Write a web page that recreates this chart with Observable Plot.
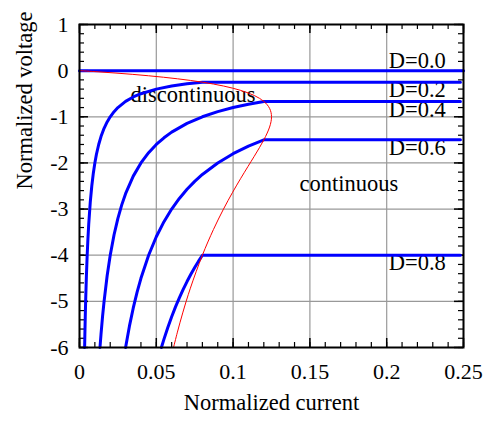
<!DOCTYPE html>
<html>
<head>
<meta charset="utf-8">
<script src="https://cdn.jsdelivr.net/npm/d3@7"></script>
<script src="https://cdn.jsdelivr.net/npm/@observablehq/plot@0.6"></script>
<style>
  html, body { margin: 0; padding: 0; background: white; }
  svg text { font-family: 'Liberation Serif', 'Times New Roman', serif; }
</style>
</head>
<body>
<div id="chart"></div>
<script>
// ---- data ----
const xMajor = [0, 0.05, 0.1, 0.15, 0.2, 0.25];
const xMinor = [0,0.01,0.02,0.03,0.04,0.05,0.06,0.07,0.08,0.09,0.1,0.11,0.12,0.13,0.14,0.15,0.16,0.17,0.18,0.19,0.2,0.21,0.22,0.23,0.24,0.25];
const yMajor = [1, 0, -1, -2, -3, -4, -5, -6];
const yMinor = [1,0.8,0.6,0.4,0.2,0,-0.2,-0.4,-0.6,-0.8,-1,-1.2,-1.4,-1.6,-1.8,-2,-2.2,-2.4,-2.6,-2.8,-3,-3.2,-3.4,-3.6,-3.8,-4,-4.2,-4.4,-4.6,-4.8,-5,-5.2,-5.4,-5.6,-5.8,-6];

const curveD00 = [[0,0],[0.25,0]];
const curveD02 = [[0.00333,-6],[0.0035,-5.714],[0.00375,-5.333],[0.004,-5],[0.0045,-4.444],[0.005,-4],[0.0055,-3.636],[0.006,-3.333],[0.007,-2.857],[0.008,-2.5],[0.009,-2.222],[0.01,-2],[0.011,-1.818],[0.0125,-1.6],[0.014,-1.429],[0.016,-1.25],[0.018,-1.111],[0.02,-1],[0.0225,-0.889],[0.025,-0.8],[0.03,-0.667],[0.035,-0.571],[0.04,-0.5],[0.05,-0.4],[0.06,-0.333],[0.07,-0.286],[0.08,-0.25],[0.248,-0.25]];
const curveD04 = [[0.01333,-6],[0.014,-5.714],[0.015,-5.333],[0.016,-5],[0.018,-4.444],[0.02,-4],[0.0225,-3.556],[0.025,-3.2],[0.0275,-2.909],[0.03,-2.667],[0.035,-2.286],[0.04,-2],[0.045,-1.778],[0.05,-1.6],[0.055,-1.455],[0.06,-1.333],[0.07,-1.143],[0.08,-1],[0.09,-0.889],[0.1,-0.8],[0.11,-0.727],[0.12,-0.667],[0.248,-0.667]];
const curveD06 = [[0.03,-6],[0.0325,-5.538],[0.035,-5.143],[0.0375,-4.8],[0.04,-4.5],[0.045,-4],[0.05,-3.6],[0.055,-3.273],[0.06,-3],[0.065,-2.769],[0.07,-2.571],[0.075,-2.4],[0.08,-2.25],[0.09,-2],[0.1,-1.8],[0.11,-1.636],[0.12,-1.5],[0.248,-1.5]];
const curveD08 = [[0.05333,-6],[0.055,-5.818],[0.0575,-5.565],[0.06,-5.333],[0.0625,-5.12],[0.065,-4.923],[0.0675,-4.741],[0.07,-4.571],[0.0725,-4.414],[0.075,-4.267],[0.0775,-4.129],[0.08,-4],[0.248,-4]];
const boundary = [[0,0],[0.0121875,-0.02564],[0.02375,-0.05263],[0.0346875,-0.08108],[0.045,-0.11111],[0.0546875,-0.142857],[0.06375,-0.17647],[0.0721875,-0.21212],[0.08,-0.25],[0.0871875,-0.29032],[0.09375,-0.33333],[0.0996875,-0.37931],[0.105,-0.42857],[0.1096875,-0.48148],[0.11375,-0.53846],[0.1171875,-0.6],[0.12,-0.66667],[0.1221875,-0.73913],[0.12375,-0.81818],[0.1246875,-0.90476],[0.125,-1],[0.1246875,-1.10526],[0.12375,-1.22222],[0.1221875,-1.35294],[0.12,-1.5],[0.1171875,-1.66667],[0.11375,-1.85714],[0.1096875,-2.07692],[0.105,-2.33333],[0.0996875,-2.63636],[0.09375,-3],[0.0871875,-3.44444],[0.08,-4],[0.0721875,-4.71429],[0.0672,-5.25],[0.06375,-5.66667],[0.061224,-6]];

const dutyNames = ["D=0.0", "D=0.2", "D=0.4", "D=0.6", "D=0.8"];
const dutyLevels = [0, -0.25, -0.667, -1.5, -4];
const labelX = 0.2;
const regionNames = ["discontinuous", "continuous"];
const regionX = [0.0332, 0.1432];
const regionY = [-0.53, -2.457];

// ---- build tables ----
const curves = [curveD00, curveD02, curveD04, curveD06, curveD08];
const lineRows = curves.flatMap((c, i) => c.map(([x, y]) => ({x, y, name: dutyNames[i]})));
const boundaryRows = boundary.map(([x, y]) => ({x, y}));
const dutyLabels = dutyNames.map((name, i) => ({name, x: labelX, y: dutyLevels[i]}));
const regionLabels = regionNames.map((name, i) => ({name, x: regionX[i], y: regionY[i]}));

const W = 500, H = 429;
const mL = 79, mR = 37, mT = 24, mB = 82;
const fw = W - mL - mR, fh = H - mT - mB;
const major = 9, minor = 5;
const FS = 22.5;

const chart = Plot.plot({
  width: W,
  height: H,
  marginLeft: mL,
  marginRight: mR,
  marginTop: mT,
  marginBottom: mB,
  style: {fontFamily: "'Liberation Serif', 'Times New Roman', serif", fontSize: "22px", background: "white", color: "black"},
  x: {domain: [0, 0.25]},
  y: {domain: [-6, 1]},
  marks: [
    Plot.gridX(xMajor, {stroke: "#999", strokeOpacity: 1, strokeWidth: 1.2}),
    Plot.gridY(yMajor, {stroke: "#999", strokeOpacity: 1, strokeWidth: 1.2}),
    Plot.axisX(xMajor, {tickSize: 0, tickPadding: 16, tickFormat: d => String(d), label: null, fontSize: 22}),
    Plot.axisY(yMajor, {tickSize: 0, tickPadding: 11, tickFormat: d => String(d), label: null, fontSize: 22}),
    // inward ticks, bottom/top
    Plot.tickX(xMinor, {x: d => d, insetTop: fh - minor, stroke: "black", strokeWidth: 1.2}),
    Plot.tickX(xMinor, {x: d => d, insetBottom: fh - minor, stroke: "black", strokeWidth: 1.2}),
    Plot.tickX(xMajor, {x: d => d, insetTop: fh - major, stroke: "black", strokeWidth: 1.5}),
    Plot.tickX(xMajor, {x: d => d, insetBottom: fh - major, stroke: "black", strokeWidth: 1.5}),
    // inward ticks, left/right
    Plot.tickY(yMinor, {y: d => d, insetRight: fw - minor, stroke: "black", strokeWidth: 1.2}),
    Plot.tickY(yMinor, {y: d => d, insetLeft: fw - minor, stroke: "black", strokeWidth: 1.2}),
    Plot.tickY(yMajor, {y: d => d, insetRight: fw - major, stroke: "black", strokeWidth: 1.5}),
    Plot.tickY(yMajor, {y: d => d, insetLeft: fw - major, stroke: "black", strokeWidth: 1.5}),
    // region labels (behind curves)
    Plot.text(regionLabels, {x: "x", y: "y", text: "name", textAnchor: "start", fill: "black", fontSize: FS}),
    // D labels
    Plot.text(dutyLabels.filter(d => d.y === 0), {x: "x", y: "y", text: "name", textAnchor: "start", dx: 2, dy: -10, fill: "black", fontSize: FS}),
    Plot.text(dutyLabels.filter(d => d.y !== 0), {x: "x", y: "y", text: "name", textAnchor: "start", dx: 2, dy: 8, fill: "black", fontSize: FS}),
    // curves
    Plot.line(lineRows, {x: "x", y: "y", z: "name", stroke: "#0000ff", strokeWidth: 3, curve: "linear"}),
    Plot.line(boundaryRows, {x: "x", y: "y", stroke: "#ff0000", strokeWidth: 1, curve: "catmull-rom"}),
    Plot.frame({stroke: "black", strokeWidth: 2}),
    // axis titles
    Plot.text(["Normalized current"], {frameAnchor: "bottom", dy: 62.5, fill: "black", fontSize: FS}),
    Plot.text(["Normalized voltage"], {frameAnchor: "left", rotate: -90, dx: -55, dy: 3.5, fill: "black", fontSize: FS})
  ]
});
document.getElementById("chart").appendChild(chart);
</script>
</body>
</html>
